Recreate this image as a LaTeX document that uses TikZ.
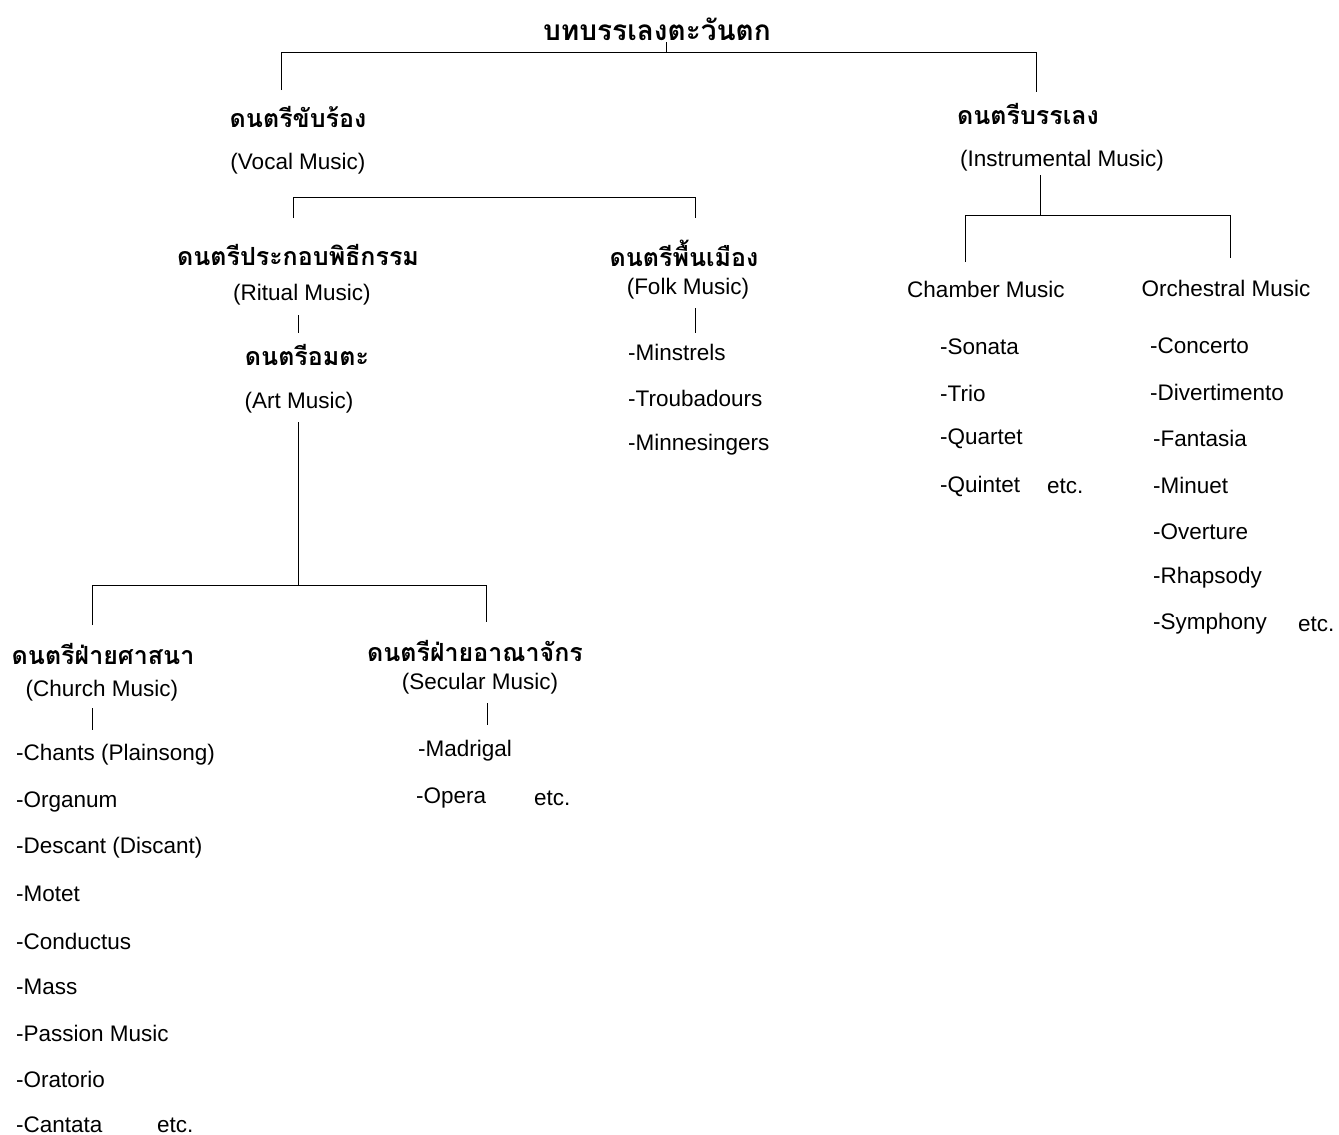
\documentclass[tikz,border=0pt]{standalone}
\usepackage{fontspec}
\setmainfont{Liberation Sans}
\newfontfamily\thai[Script=Thai]{Loma}
\begin{document}
\begin{tikzpicture}[x=1pt,y=-1pt,
  th/.style={font=\thai\bfseries\fontsize{25}{30}\selectfont, inner sep=0pt},
  tt/.style={font=\thai\bfseries\fontsize{28}{34}\selectfont, inner sep=0pt},
  en/.style={font=\fontsize{22.5}{26}\selectfont, inner sep=0pt},
  li/.style={en, anchor=west},
  ln/.style={line width=0.9pt, black}]
\useasboundingbox[fill=white] (0,0) rectangle (1339,1135);
% headings
\node[tt] (title) at (657,29) {บทบรรเลงตะวันตก};
\node[th] (vocal) at (298,117) {ดนตรีขับร้อง};
\node[en] (vocalE) at (298,164) {(Vocal Music)};
\node[th] (instr) at (1028,114) {ดนตรีบรรเลง};
\node[en] (instrE) at (1062,161) {(Instrumental Music)};
\node[th] (ritual) at (298,255) {ดนตรีประกอบพิธีกรรม};
\node[en] (ritualE) at (302,295) {(Ritual Music)};
\node[th] (art) at (307,355) {ดนตรีอมตะ};
\node[en] (artE) at (299,403) {(Art Music)};
\node[th] (church) at (103,654) {ดนตรีฝ่ายศาสนา};
\node[en] (churchE) at (102,691) {(Church Music)};
\node[th] (secular) at (475,651) {ดนตรีฝ่ายอาณาจักร};
\node[en] (secularE) at (480,684) {(Secular Music)};
\node[th] (folk) at (684,253) {ดนตรีพื้นเมือง};
\node[en] (folkE) at (688,289) {(Folk Music)};
\node[en] (chamber) at (986,289) {Chamber Music};
\node[en] (orch) at (1226,288) {Orchestral Music};
% church list
\node[li] (c1) at (16,755) {-Chants (Plainsong)};
\node[li] (c2) at (16,802) {-Organum};
\node[li] (c3) at (16,848) {-Descant (Discant)};
\node[li] (c4) at (16,894) {-Motet};
\node[li] (c5) at (16,941) {-Conductus};
\node[li] (c6) at (16,987) {-Mass};
\node[li] (c7) at (16,1033) {-Passion Music};
\node[li] (c8) at (16,1079) {-Oratorio};
\node[li] (c9) at (16,1125) {-Cantata};
\node[li] (cetc) at (157,1125) {etc.};
% secular list
\node[li] (s1) at (418,751) {-Madrigal};
\node[li] (s2) at (416,798) {-Opera};
\node[li] (setc) at (534,798) {etc.};
% folk list
\node[li] (f1) at (628,352) {-Minstrels};
\node[li] (f2) at (628,398) {-Troubadours};
\node[li] (f3) at (628,445) {-Minnesingers};
% chamber list
\node[li] (k1) at (940,347) {-Sonata};
\node[li] (k2) at (940,393) {-Trio};
\node[li] (k3) at (940,439) {-Quartet};
\node[li] (k4) at (940,486) {-Quintet};
\node[li] (ketc) at (1047,486) {etc.};
% orchestral list
\node[li] (o1) at (1150,346) {-Concerto};
\node[li] (o2) at (1150,392) {-Divertimento};
\node[li] (o3) at (1153,438) {-Fantasia};
\node[li] (o4) at (1153,485) {-Minuet};
\node[li] (o5) at (1153,532) {-Overture};
\node[li] (o6) at (1153,578) {-Rhapsody};
\node[li] (o7) at (1153,624) {-Symphony};
\node[li] (oetc) at (1298,624) {etc.};
% connector coordinates
\coordinate (a0) at (666,42);  \coordinate (a1) at (666,52);
\coordinate (aL0) at (281,90); \coordinate (aL) at (281,52);
\coordinate (aR) at (1036,52); \coordinate (aR0) at (1036,92);
\coordinate (bL0) at (293,218); \coordinate (bL) at (293,197);
\coordinate (bR) at (695,197); \coordinate (bR0) at (695,218);
\coordinate (r0) at (298,315); \coordinate (r1) at (298,333);
\coordinate (d0) at (298,422); \coordinate (d1) at (298,585);
\coordinate (dL0) at (92,625); \coordinate (dL) at (92,585);
\coordinate (dR) at (486,585); \coordinate (dR0) at (486,622);
\coordinate (ch0) at (92,708); \coordinate (ch1) at (92,730);
\coordinate (se0) at (487,703); \coordinate (se1) at (487,725);
\coordinate (fo0) at (695,308); \coordinate (fo1) at (695,333);
\coordinate (in0) at (1040,175); \coordinate (in1) at (1040,215);
\coordinate (eL0) at (965,262); \coordinate (eL) at (965,215);
\coordinate (eR) at (1230,215); \coordinate (eR0) at (1230,258);
% connectors
\draw[ln] (a0) -- (a1);
\draw[ln] (aL0) -- (aL) -- (aR) -- (aR0);
\draw[ln] (bL0) -- (bL) -- (bR) -- (bR0);
\draw[ln] (r0) -- (r1);
\draw[ln] (d0) -- (d1);
\draw[ln] (dL0) -- (dL) -- (dR) -- (dR0);
\draw[ln] (ch0) -- (ch1);
\draw[ln] (se0) -- (se1);
\draw[ln] (fo0) -- (fo1);
\draw[ln] (in0) -- (in1);
\draw[ln] (eL0) -- (eL) -- (eR) -- (eR0);
\end{tikzpicture}
\end{document}
